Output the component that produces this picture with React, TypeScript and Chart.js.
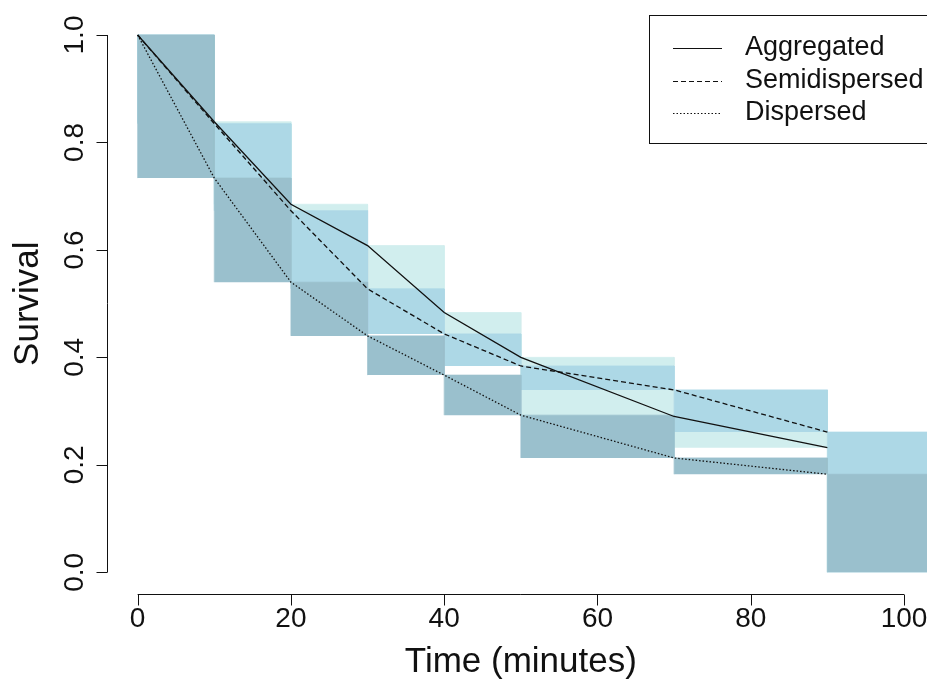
import React, { useEffect, useRef } from "react";
import { Chart, registerables } from "chart.js";

Chart.register(...registerables);

// Observation times (minutes) and survival of each group at those times
const times = [0, 10, 20, 30, 40, 50, 70, 90];
const aggregated = [1.0, 0.8385, 0.685, 0.608, 0.4835, 0.4, 0.29, 0.232];
const semidispersed = [1.0, 0.835, 0.673, 0.5275, 0.4437, 0.384, 0.3395, 0.261];
const dispersed = [1.0, 0.7337, 0.54, 0.44, 0.367, 0.2925, 0.2128, 0.1825];

// The last band runs on past the final observation, down to zero
const finalBandEnd = 110;
const finalBandFloor = 0;

const groupNames = ["Aggregated", "Semidispersed", "Dispersed"];
const bandColors = ["#D1EEEE", "#ADD8E6", "#9AC0CD"];
const lineDashes: number[][] = [[], [5, 3], [1.5, 2]];

const xTicks = [0, 20, 40, 60, 80, 100];
const yTicks = [0, 0.2, 0.4, 0.6, 0.8, 1.0];
const yTickLabels = ["0.0", "0.2", "0.4", "0.6", "0.8", "1.0"];
const xTitle = "Time (minutes)";
const yTitle = "Survival";

const FONT = '"Liberation Sans", Arial, sans-serif';
const INK = "#111111";

const series = [aggregated, semidispersed, dispersed];

function buildDatasets() {
  const bands: any[] = [];
  series.forEach((surv, g) => {
    surv.forEach((top, i) => {
      const last = i + 1 >= times.length;
      const x0 = times[i];
      const x1 = last ? finalBandEnd : times[i + 1];
      const bottom = last ? finalBandFloor : surv[i + 1];
      // outline left side, top and right side, filled down to the band floor
      bands.push({
        type: "line",
        label: `${groupNames[g]} ${x0}-${x1}`,
        data: [
          { x: x0, y: bottom },
          { x: x0, y: top },
          { x: x1, y: top },
          { x: x1, y: bottom },
        ],
        fill: { value: bottom },
        backgroundColor: bandColors[g],
        borderColor: bandColors[g],
        borderWidth: 0.8,
        pointRadius: 0,
        order: 30 - g * 10,
      });
    });
  });
  const lines = series.map((surv, g) => ({
    type: "line",
    label: groupNames[g],
    data: times.map((t, i) => ({ x: t, y: surv[i] })),
    borderColor: INK,
    borderWidth: 1.3,
    borderDash: lineDashes[g],
    pointRadius: 0,
    fill: false,
    tension: 0,
    order: 0,
  }));
  return [...bands, ...lines];
}

// Base-graphics style axes, titles and boxed legend
const decorations = {
  id: "decorations",
  afterDraw(chart: any) {
    const { ctx, chartArea } = chart;
    const xs = chart.scales.x;
    const ys = chart.scales.y;
    const tick = 11;
    ctx.save();
    ctx.strokeStyle = INK;
    ctx.fillStyle = INK;
    ctx.lineWidth = 1;
    ctx.setLineDash([]);

    // x axis
    const yAxis = Math.round(chartArea.bottom) + 0.5;
    const xa = xs.getPixelForValue(xTicks[0]);
    const xb = xs.getPixelForValue(xTicks[xTicks.length - 1]);
    ctx.beginPath();
    ctx.moveTo(xa, yAxis);
    ctx.lineTo(xb, yAxis);
    xTicks.forEach((v) => {
      const px = Math.round(xs.getPixelForValue(v)) + 0.5;
      ctx.moveTo(px, yAxis);
      ctx.lineTo(px, yAxis + tick);
    });
    ctx.stroke();
    ctx.font = `28px ${FONT}`;
    ctx.textAlign = "center";
    ctx.textBaseline = "middle";
    xTicks.forEach((v) => {
      ctx.fillText(String(v), xs.getPixelForValue(v), yAxis + 25);
    });

    // y axis
    const xAxis = Math.round(chartArea.left) + 0.5;
    const ya = ys.getPixelForValue(yTicks[0]);
    const yb = ys.getPixelForValue(yTicks[yTicks.length - 1]);
    ctx.beginPath();
    ctx.moveTo(xAxis, ya);
    ctx.lineTo(xAxis, yb);
    yTicks.forEach((v) => {
      const py = Math.round(ys.getPixelForValue(v)) + 0.5;
      ctx.moveTo(xAxis, py);
      ctx.lineTo(xAxis - tick, py);
    });
    ctx.stroke();
    yTicks.forEach((v, i) => {
      ctx.save();
      ctx.translate(xAxis - 32, ys.getPixelForValue(v));
      ctx.rotate(-Math.PI / 2);
      ctx.fillText(yTickLabels[i], 0, 0);
      ctx.restore();
    });

    // axis titles
    ctx.font = `35px ${FONT}`;
    ctx.fillText(xTitle, xs.getPixelForValue(50), yAxis + 68);
    ctx.save();
    ctx.translate(xAxis - 79, ys.getPixelForValue(0.5));
    ctx.rotate(-Math.PI / 2);
    ctx.fillText(yTitle, 0, 0);
    ctx.restore();

    // legend
    const boxLeft = 649.5;
    const boxTop = 15.5;
    const boxBottom = 143.5;
    ctx.strokeRect(boxLeft, boxTop, 400, boxBottom - boxTop);
    ctx.font = `27px ${FONT}`;
    ctx.textAlign = "left";
    groupNames.forEach((name, g) => {
      const rowY = 48 + g * 32.5;
      const lineY = Math.round(rowY) + 0.5;
      ctx.beginPath();
      ctx.lineWidth = 1;
      ctx.setLineDash(lineDashes[g]);
      ctx.moveTo(673, lineY);
      ctx.lineTo(722, lineY);
      ctx.stroke();
      ctx.setLineDash([]);
      ctx.fillText(name, 745, rowY);
    });
    ctx.restore();
  },
};

export default function App() {
  const canvasRef = useRef<HTMLCanvasElement | null>(null);

  useEffect(() => {
    const canvas = canvasRef.current;
    if (!canvas) return;
    const chart = new Chart(canvas, {
      type: "line",
      data: { datasets: buildDatasets() as any },
      options: {
        animation: false,
        responsive: false,
        events: [],
        layout: { padding: { left: 107, right: 0, top: 13.5, bottom: 88.2 } },
        scales: {
          x: { type: "linear", min: -4, max: 103, display: false },
          y: { type: "linear", min: -0.04, max: 1.04, display: false },
        },
        plugins: {
          legend: { display: false },
          tooltip: { enabled: false },
        },
      },
      plugins: [decorations],
    });
    return () => chart.destroy();
  }, []);

  return (
    <div style={{ position: "fixed", left: 0, top: 0, width: 927, height: 682, background: "#fff" }}>
      <canvas ref={canvasRef} width={927} height={682} style={{ display: "block" }} />
    </div>
  );
}
